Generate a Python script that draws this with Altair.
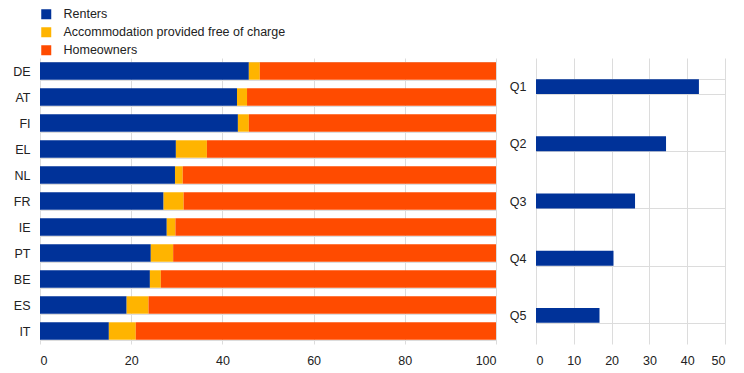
import altair as alt
import pandas as pd

countries = ["DE", "AT", "FI", "EL", "NL", "FR", "IE", "PT", "BE", "ES", "IT"]
renters = [45.8, 43.2, 43.4, 29.8, 29.6, 27.1, 27.8, 24.3, 24.1, 19.0, 15.1]
free_of_charge = [2.4, 2.2, 2.4, 6.8, 1.7, 4.4, 1.9, 4.9, 2.4, 4.8, 5.9]
homeowners = [51.8, 54.6, 54.2, 63.4, 68.7, 68.5, 70.3, 70.8, 73.5, 76.2, 79.0]

quintiles = ["Q1", "Q2", "Q3", "Q4", "Q5"]
quintile_renters = [43.1, 34.4, 26.2, 20.5, 16.8]

series = ["Renters", "Accommodation provided free of charge", "Homeowners"]
colors = ["#003299", "#FFB400", "#FF4B00"]

rows = []
for i, c in enumerate(countries):
    for k, (s, vals) in enumerate(zip(series, [renters, free_of_charge, homeowners])):
        rows.append({"country": c, "series": s, "value": vals[i], "idx": k})
df = pd.DataFrame(rows)
qdf = pd.DataFrame({"quintile": quintiles, "value": quintile_renters})

FONT = "Liberation Sans"
GRID = "#dcdcdc"
LABEL = "#222222"
FS = 12.5

left = alt.Chart(df).mark_bar().encode(
    x=alt.X("value:Q", stack="zero",
            scale=alt.Scale(domain=[0, 100], nice=False),
            axis=alt.Axis(values=[0, 20, 40, 60, 80, 100], title=None, grid=True,
                          ticks=False, domain=False, labelPadding=10)),
    y=alt.Y("country:N", sort=countries,
            scale=alt.Scale(paddingInner=0.33, paddingOuter=0.165),
            axis=alt.Axis(title=None, grid=True, tickBand="extent", ticks=False,
                          domain=False, labelPadding=10)),
    color=alt.Color("series:N", scale=alt.Scale(domain=series, range=colors),
                    legend=alt.Legend(title=None, orient="none", legendX=0, legendY=-50,
                                      direction="vertical", symbolType="square",
                                      symbolSize=100, labelFontSize=FS, rowPadding=5,
                                      labelOffset=11, labelLimit=400,
                                      symbolStrokeWidth=0)),
    order=alt.Order("idx:Q"),
).properties(width=456, height=286)

right = alt.Chart(qdf).mark_bar(color="#003299").encode(
    x=alt.X("value:Q", scale=alt.Scale(domain=[0, 50], nice=False),
            axis=alt.Axis(values=[0, 10, 20, 30, 40, 50], title=None, grid=True,
                          ticks=False, domain=False, labelPadding=10)),
    y=alt.Y("quintile:N", sort=quintiles,
            scale=alt.Scale(paddingInner=0.74, paddingOuter=0.37),
            axis=alt.Axis(title=None, grid=True, tickBand="extent", ticks=False,
                          domain=False, labelPadding=10)),
).properties(width=189, height=286)

chart = alt.hconcat(left, right, spacing=40, bounds="flush").properties(
    padding={"left": 4, "top": 0, "right": 5, "bottom": 5}
).configure_view(strokeWidth=0).configure_axis(
    labelFont=FONT, labelFontSize=FS, labelColor=LABEL, gridColor=GRID, gridWidth=1
).configure_legend(labelFont=FONT, labelColor=LABEL)

chart.save("out.html", embed_options={"renderer": "svg", "actions": False})
